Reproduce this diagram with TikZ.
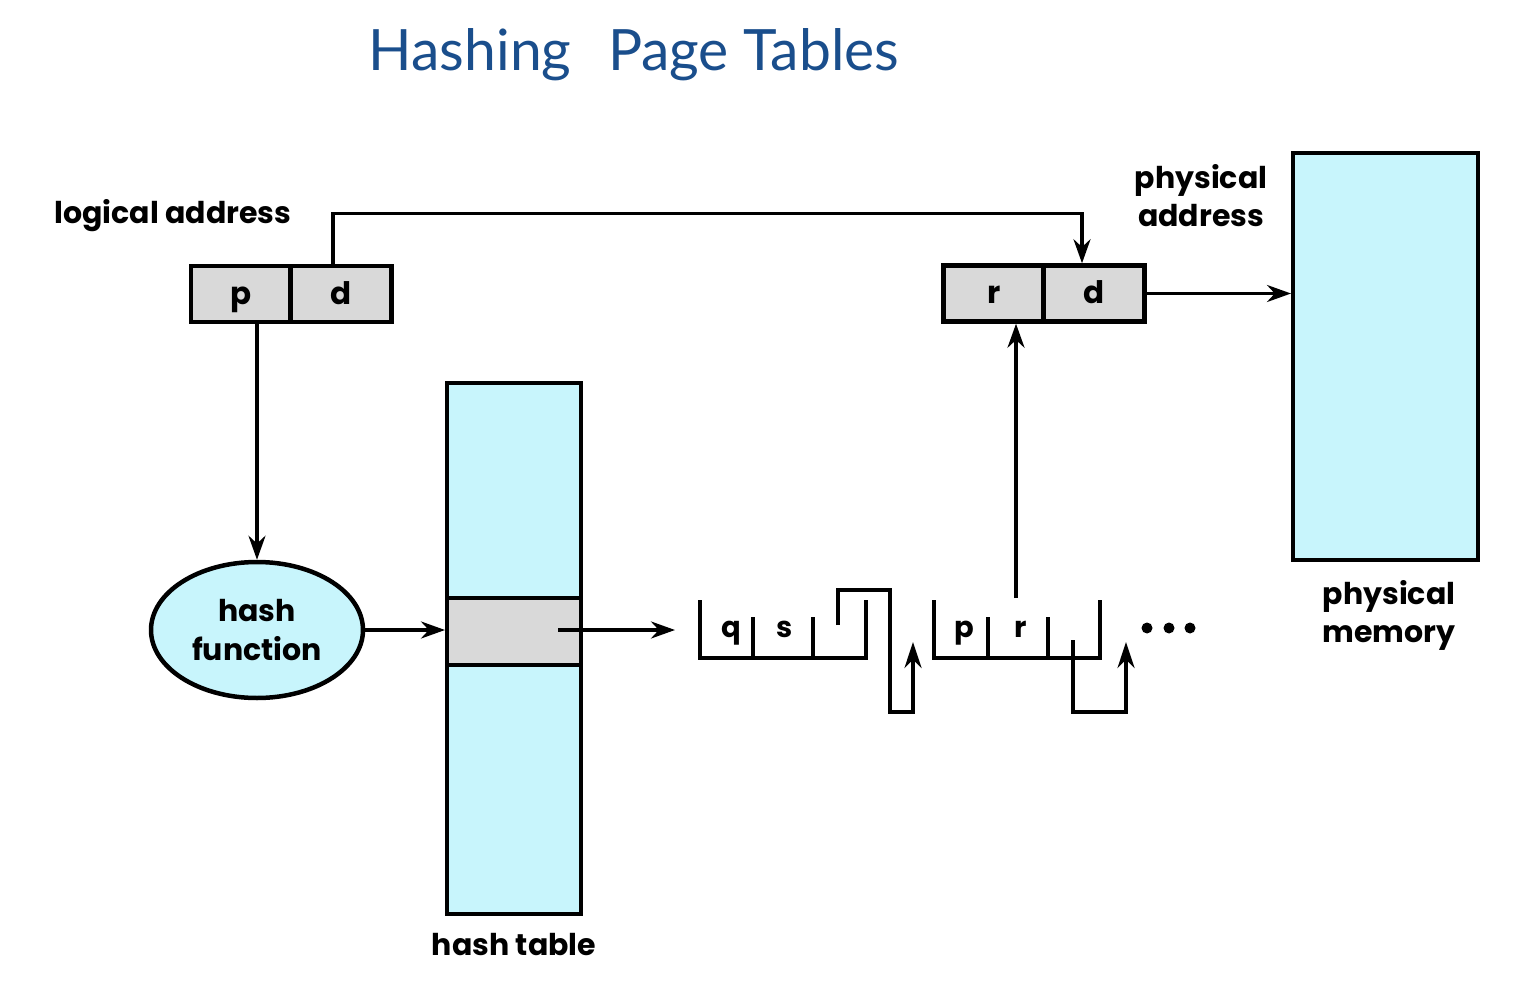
\documentclass[tikz,border=0pt]{standalone}
\usepackage{fontspec}
\setmainfont{Poppins}
\newfontfamily\titlefont{Lato}
\usetikzlibrary{arrows.meta,shapes.geometric,calc}
\definecolor{cyanfill}{HTML}{C8F5FC}
\definecolor{grayfill}{HTML}{D9D9D9}
\definecolor{titleblue}{HTML}{1A4E8C}
\begin{document}
\begin{tikzpicture}[x=1pt,y=-1pt,
  lbl/.style={font=\fontsize{30}{38}\selectfont\bfseries, align=center, inner sep=0pt},
  cellbox/.style={draw, line width=4.5pt, fill=grayfill, minimum height=56pt, inner sep=0pt, text height=22pt, text depth=2pt, font=\fontsize{31}{30}\selectfont\bfseries},
  membox/.style={draw, line width=4pt, fill=cyanfill, inner sep=0pt},
  conn/.style={line width=3.4pt, -{Stealth[length=24pt,width=17pt]}},
  chain/.style={line width=3.6pt},
  chainarrow/.style={line width=3.6pt, -{Stealth[length=26pt,width=17pt]}},
  chaintxt/.style={font=\fontsize{29}{30}\selectfont\bfseries, inner sep=0pt, text height=20pt, text depth=2pt},
  dotnode/.style={circle, fill=black, minimum size=11pt, inner sep=0pt}
]
\useasboundingbox (0,0) rectangle (1522,984);

% title
\node[font=\titlefont\fontsize{57}{60}\selectfont, text=titleblue, inner sep=0pt] (title) at (634,55) {Hashing\hspace{22pt} Page Tables};

% labels
\node[lbl] (lal) at (173,216) {logical address};
\node[lbl] (pal) at (1201,196) {physical\\address};
\node[lbl] (pml) at (1389,615) {physical\\memory};
\node[lbl] (htl) at (514,945) {hash table};

% logical address boxes
\node[cellbox, minimum width=100pt] (lp) at (241,294) {p};
\node[cellbox, minimum width=101pt] (ld) at (341,294) {d};
% physical address boxes
\node[cellbox, minimum width=101pt] (pr) at (994,293.5) {r};
\node[cellbox, minimum width=101pt] (pd) at (1094,293.5) {d};

% physical memory
\node[membox, minimum width=185pt, minimum height=407pt] (pm) at (1385.5,356.5) {};

% hash table
\node[membox, minimum width=134pt, minimum height=531pt] (ht) at (514,648.5) {};
\node[draw, line width=4pt, fill=grayfill, minimum width=134pt, minimum height=67pt, inner sep=0pt] (hrow) at (514,631.5) {};

% hash function
\node[ellipse, draw, line width=4.5pt, fill=cyanfill, minimum width=212pt, minimum height=136pt, inner sep=0pt, align=center, font=\fontsize{30}{39}\selectfont\bfseries] (hf) at (257,630) {hash\\function};

% connectors
\coordinate (ldtop) at ($(ld.north)+(-8,0)$);
\coordinate (pdtop) at ($(pd.north)+(-12,0)$);
\draw[conn] (ldtop) -- ++(0,-50) -| (pdtop);
\draw[conn] (lp.south -| 257,0) -- (hf.north);
\draw[conn] (hf.east) -- (ht.west |- hf.east);
\coordinate (rowstart) at (558,630);
\coordinate (rowend) at (675,630);
\draw[conn] (rowstart) -- (rowend);
\draw[conn] (pd.east) -- (pm.west |- pd.east);

% chain entry 1
\coordinate (e1a) at (700,600);
\coordinate (e1b) at (866,600);
\draw[chain] (e1a) -- (700,658) -- (866,658) -- (e1b);
\draw[chain] (753,617) -- (753,658);
\draw[chain] (813,617) -- (813,658);
\node[chaintxt] (q) at (731,628) {q};
\node[chaintxt] (s) at (785,628) {s};
\coordinate (ptr1) at (838,625);
\coordinate (tip1) at (913,642);
\draw[chainarrow] (ptr1) -- (838,590) -- (890,590) -- (890,712) -- (913,712) -- (tip1);

% chain entry 2
\coordinate (e2a) at (934,600);
\coordinate (e2b) at (1100,600);
\draw[chain] (e2a) -- (934,658) -- (1100,658) -- (e2b);
\draw[chain] (988,617) -- (988,658);
\draw[chain] (1048,617) -- (1048,658);
\node[chaintxt] (pp) at (964,628) {p};
\node[chaintxt] (rr) at (1021,628) {r};
\coordinate (ptr2) at (1073,640);
\coordinate (tip2) at (1126,642);
\draw[chainarrow] (ptr2) -- (1073,712) -- (1126,712) -- (tip2);

% dots
\node[dotnode] (dot1) at (1147,628) {};
\node[dotnode] (dot2) at (1169,628) {};
\node[dotnode] (dot3) at (1190,628) {};

% r pointer
\coordinate (rfrom) at (1016,598);
\draw[conn] (rfrom) -- (pr.south -| rfrom);
\end{tikzpicture}
\end{document}
